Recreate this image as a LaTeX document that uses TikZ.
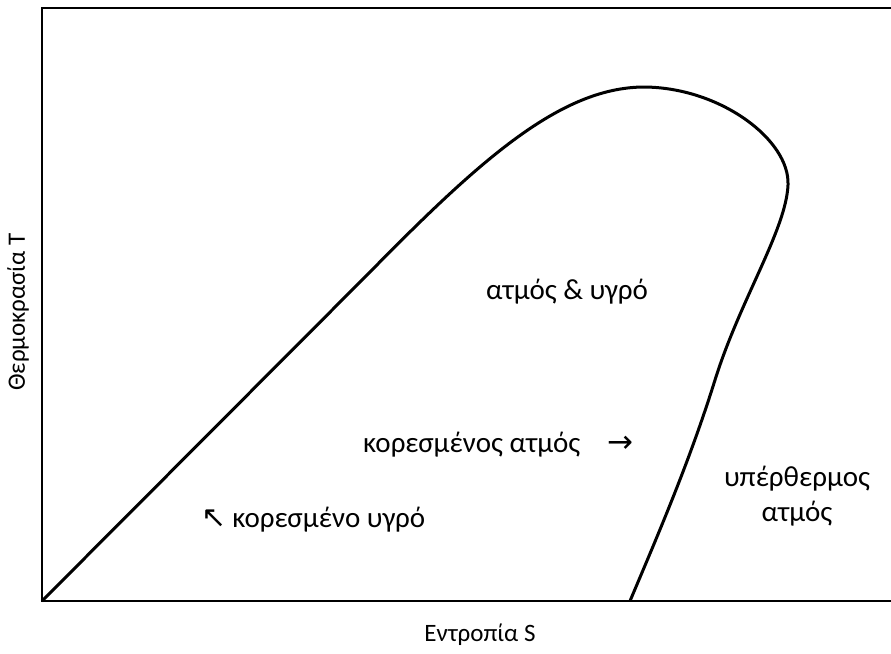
\documentclass[tikz,border=0pt]{standalone}
\usepackage{fontspec}
\setmainfont{Carlito}
\newfontfamily\arrowfont{DejaVu Sans}
\begin{document}
\begin{tikzpicture}[x=1pt,y=-1pt,
  lbl/.style={inner sep=0pt},
  big/.style={lbl, font=\fontsize{29}{35}\selectfont},
  axis/.style={line width=2pt, black},
  curve/.style={line width=3pt, black, line join=round}]
\useasboundingbox (0,0) rectangle (891,653);
\coordinate (tl) at (42,8);
\coordinate (tr) at (891,8);
\coordinate (bl) at (42,601);
\coordinate (br) at (891,601);
\draw[axis] (tr) -- (tl) -- (bl) -- (br);
\draw[curve] (bl) -- (370,272) .. controls (480,160) and (560,88) .. (643,87)
  .. controls (720,87) and (790,140) .. (788,185)
  .. controls (786,230) and (740,300) .. (715,380)
  .. controls (690,460) and (660,530) .. (630,601);
\node[big] (mix) at (567,292) {ατμός \& υγρό};
\node[big, anchor=west] (satv) at (363,445) {κορεσμένος ατμός\hspace{27pt}{\arrowfont\fontsize{31}{34}\selectfont →}};
\node[big, anchor=west] (satl) at (201,520) {{\arrowfont\fontsize{30}{34}\selectfont ↖}\hspace{6pt}κορεσμένο υγρό};
\node[big, align=center] (sup) at (797,496) {υπέρθερμος\\ατμός};
\node[lbl, font=\fontsize{25}{30}\selectfont] (xl) at (480,635) {Εντροπία S};
\node[lbl, rotate=90, font=\fontsize{25}{30}\selectfont] (yl) at (18,312) {Θερμοκρασία T};
\end{tikzpicture}
\end{document}
